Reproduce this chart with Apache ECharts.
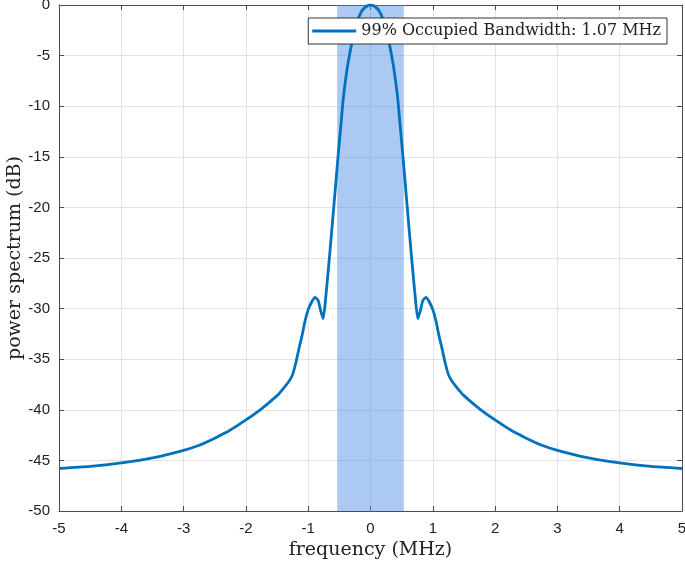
<!DOCTYPE html>
<html>
<head>
<meta charset="utf-8">
<script src="https://cdn.jsdelivr.net/npm/echarts@6/dist/echarts.min.js"></script>
<style>html,body{margin:0;padding:0;background:#fff}#c{width:685px;height:563px}</style>
</head>
<body>
<div id="c"></div>
<script>
const freqMHz = [-5.0,-4.5,-4.0,-3.5,-3.0,-2.75,-2.5,-2.25,-2.0,-1.75,-1.5,-1.4,-1.3,-1.25,-1.2,-1.15,-1.1,-1.05,-1.0,-0.94,-0.89,-0.84,-0.8,-0.76,-0.72,-0.66,-0.59,-0.52,-0.48,-0.44,-0.4,-0.36,-0.28,-0.21,-0.14,-0.07,0,
  0.07,0.14,0.21,0.28,0.36,0.4,0.44,0.48,0.52,0.59,0.66,0.72,0.76,0.8,0.84,0.89,0.94,1.0,1.05,1.1,1.15,1.2,1.25,1.3,1.4,1.5,1.75,2.0,2.25,2.5,2.75,3.0,3.5,4.0,4.5,5.0];
const powerDB = [-45.8,-45.6,-45.25,-44.75,-44.0,-43.5,-42.8,-42.0,-41.0,-39.9,-38.6,-37.9,-37.1,-36.5,-35.4,-34.0,-32.7,-31.2,-30.1,-29.3,-28.9,-29.2,-30.2,-31.0,-29.0,-25.0,-20.0,-14.9,-12.2,-9.4,-7.4,-5.7,-3.2,-1.6,-0.6,-0.15,0,
  -0.15,-0.6,-1.6,-3.2,-5.7,-7.4,-9.4,-12.2,-14.9,-20.0,-25.0,-29.0,-31.0,-30.2,-29.2,-28.9,-29.3,-30.1,-31.2,-32.7,-34.0,-35.4,-36.5,-37.1,-37.9,-38.6,-39.9,-41.0,-42.0,-42.8,-43.5,-44.0,-44.75,-45.25,-45.6,-45.8];
const bandEdges = [-0.535, 0.535];
const legendText = '99% Occupied Bandwidth: 1.07 MHz';
const xTicks = {min:-5, max:5, step:1};
const yTicks = {min:-50, max:0, step:5};

const data = freqMHz.map((f,i)=>[f, powerDB[i]]);
const chart = echarts.init(document.getElementById('c'), null, {renderer:'canvas'});
const axisLine = {show:true, onZero:false, lineStyle:{color:'#4d4d4d', width:1}};
const tick = {show:true, inside:true, length:5, lineStyle:{color:'#4d4d4d'}};
const gridLine = {show:true, lineStyle:{color:'#e3e3e3', width:1}};
const nameFont = {fontFamily:'"DejaVu Serif","Liberation Serif",serif', fontSize:19, color:'#222'};
chart.setOption({
  animation:false,
  backgroundColor:'#fff',
  grid:{left:59, right:3, top:5, bottom:52, containLabel:false, outerBoundsMode:'none'},
  legend:{
    top:18, right:18,
    backgroundColor:'#fff', borderColor:'#333', borderWidth:1,
    padding:[5,6,5,4],
    itemWidth:44, itemHeight:3, itemGap:2,
    icon:'path://M0,0 L44,0 L44,3 L0,3 Z',
    textStyle:{fontFamily:'"DejaVu Serif","Liberation Serif",serif', fontSize:16, color:'#222'},
    data:[legendText]
  },
  xAxis:[{
    type:'value', min:xTicks.min, max:xTicks.max, interval:xTicks.step,
    name:'frequency (MHz)', nameLocation:'middle', nameGap:30, nameMoveOverlap:false,
    nameTextStyle:nameFont,
    axisLine:axisLine, axisTick:tick,
    axisLabel:{fontFamily:'"Liberation Sans",Arial,sans-serif', fontSize:15, color:'#222', margin:10},
    splitLine:gridLine
  },{
    type:'value', position:'top', min:xTicks.min, max:xTicks.max, interval:xTicks.step,
    axisLine:axisLine, axisTick:tick,
    axisLabel:{show:false}, splitLine:{show:false}
  }],
  yAxis:[{
    type:'value', min:yTicks.min, max:yTicks.max, interval:yTicks.step,
    name:'power spectrum (dB)', nameLocation:'middle', nameGap:34, nameMoveOverlap:false,
    nameTextStyle:nameFont,
    axisLine:axisLine, axisTick:tick,
    axisLabel:{fontFamily:'"Liberation Sans",Arial,sans-serif', fontSize:15, color:'#222', margin:9},
    splitLine:gridLine
  },{
    type:'value', position:'right', min:yTicks.min, max:yTicks.max, interval:yTicks.step,
    axisLine:axisLine, axisTick:tick,
    axisLabel:{show:false}, splitLine:{show:false}
  }],
  series:[{
    name:legendText, type:'line', data:data, smooth:0.2, showSymbol:false, symbol:'none',
    lineStyle:{color:'#0072BD', width:2.8}, itemStyle:{color:'#0072BD'},
    clip:true,
    markArea:{silent:true, itemStyle:{color:'rgba(77,140,230,0.47)'},
      data:[[{xAxis:bandEdges[0]},{xAxis:bandEdges[1]}]]}
  }]
});
</script>
</body>
</html>
